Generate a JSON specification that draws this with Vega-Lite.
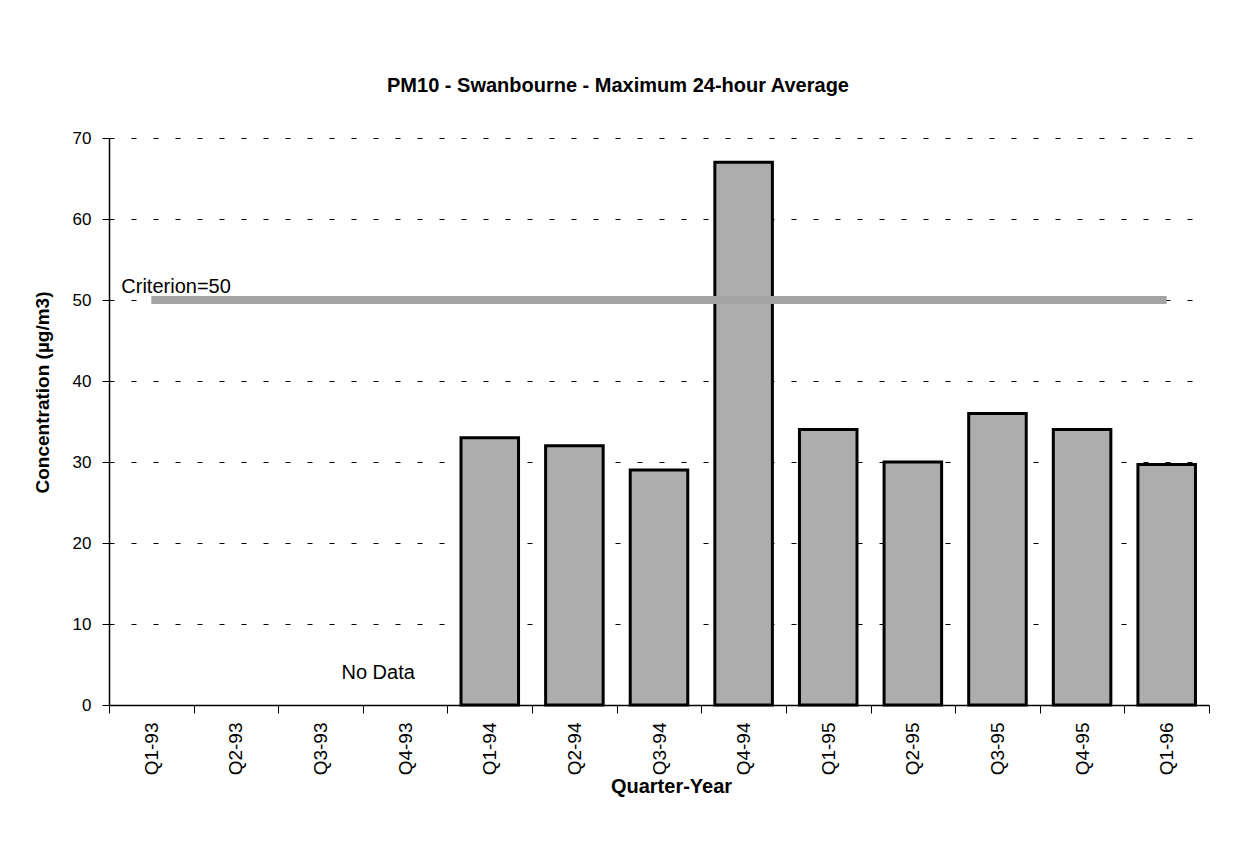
{
  "$schema": "https://vega.github.io/schema/vega-lite/v6.json",
  "width": 1100,
  "height": 567,
  "autosize": {"type": "none"},
  "padding": {"left": 109, "top": 138, "right": 25, "bottom": 137},
  "background": "white",
  "config": {
    "font": "Liberation Sans",
    "view": {"stroke": null},
    "axis": {"labelFont": "Liberation Sans", "titleFont": "Liberation Sans", "labelColor": "black", "titleColor": "black", "domainColor": "black", "tickColor": "black"}
  },
  "title": {
    "text": "PM10 - Swanbourne - Maximum 24-hour Average",
    "fontSize": 20,
    "fontWeight": "bold",
    "font": "Liberation Sans",
    "color": "black",
    "anchor": "middle",
    "dx": -41,
    "offset": 33
  },
  "datasets": {
    "pm": [
      {"quarter": "Q1-93", "value": null, "criterion": 50},
      {"quarter": "Q2-93", "value": null, "criterion": 50},
      {"quarter": "Q3-93", "value": null, "criterion": 50},
      {"quarter": "Q4-93", "value": null, "criterion": 50},
      {"quarter": "Q1-94", "value": 33, "criterion": 50},
      {"quarter": "Q2-94", "value": 32, "criterion": 50},
      {"quarter": "Q3-94", "value": 29, "criterion": 50},
      {"quarter": "Q4-94", "value": 67, "criterion": 50},
      {"quarter": "Q1-95", "value": 34, "criterion": 50},
      {"quarter": "Q2-95", "value": 30, "criterion": 50},
      {"quarter": "Q3-95", "value": 36, "criterion": 50},
      {"quarter": "Q4-95", "value": 34, "criterion": 50},
      {"quarter": "Q1-96", "value": 29.7, "criterion": 50}
    ],
    "notes": [
      {"quarter": "Q1-93", "label": "Criterion=50", "value": 50, "kind": "crit"},
      {"quarter": "Q4-93", "label": "No Data", "value": 4, "kind": "nodata"}
    ]
  },
  "encoding": {
    "x": {
      "field": "quarter",
      "type": "ordinal",
      "sort": null,
      "scale": {
        "domain": ["Q1-93", "Q2-93", "Q3-93", "Q4-93", "Q1-94", "Q2-94", "Q3-94", "Q4-94", "Q1-95", "Q2-95", "Q3-95", "Q4-95", "Q1-96"],
        "paddingInner": 0,
        "paddingOuter": 0
      },
      "axis": {
        "title": "Quarter-Year",
        "titleFontSize": 20,
        "titleFontWeight": "bold",
        "titlePadding": 2,
        "titleX": 562,
        "labelAngle": 270,
        "labelAlign": "right",
        "labelBaseline": "middle",
        "labelFontSize": 19,
        "labelPadding": 9,
        "tickBand": "extent",
        "tickSize": 8,
        "domainWidth": 1.5,
        "grid": false
      }
    }
  },
  "layer": [
    {
      "data": {"name": "pm"},
      "mark": {"type": "bar", "fill": "#adadad", "stroke": "black", "strokeWidth": 3, "width": {"band": 0.68}},
      "encoding": {
        "y": {
          "field": "value",
          "type": "quantitative",
          "scale": {"domain": [0, 70], "nice": false},
          "axis": {
            "title": "Concentration (µg/m3)",
            "titleFontSize": 19,
            "titleFontWeight": "bold",
            "titlePadding": 20,
            "titleY": 254,
            "values": [0, 10, 20, 30, 40, 50, 60, 70],
            "labelFontSize": 17,
            "labelPadding": 11,
            "tickSize": 7,
            "domainWidth": 1.5,
            "grid": true,
            "gridColor": "black",
            "gridDash": [5, 17],
            "gridWidth": 1.2
          }
        }
      }
    },
    {
      "data": {"name": "pm"},
      "mark": {"type": "line", "color": "#a3a3a3", "strokeWidth": 8},
      "encoding": {
        "y": {"field": "criterion", "type": "quantitative"}
      }
    },
    {
      "data": {"name": "notes"},
      "transform": [{"filter": "datum.kind == 'crit'"}],
      "mark": {"type": "text", "align": "left", "baseline": "middle", "dx": -30, "dy": -13, "fontSize": 20, "color": "black"},
      "encoding": {
        "y": {"field": "value", "type": "quantitative"},
        "text": {"field": "label"}
      }
    },
    {
      "data": {"name": "notes"},
      "transform": [{"filter": "datum.kind == 'nodata'"}],
      "mark": {"type": "text", "align": "center", "baseline": "middle", "dx": -27, "fontSize": 20, "color": "black"},
      "encoding": {
        "y": {"field": "value", "type": "quantitative"},
        "text": {"field": "label"}
      }
    }
  ]
}
